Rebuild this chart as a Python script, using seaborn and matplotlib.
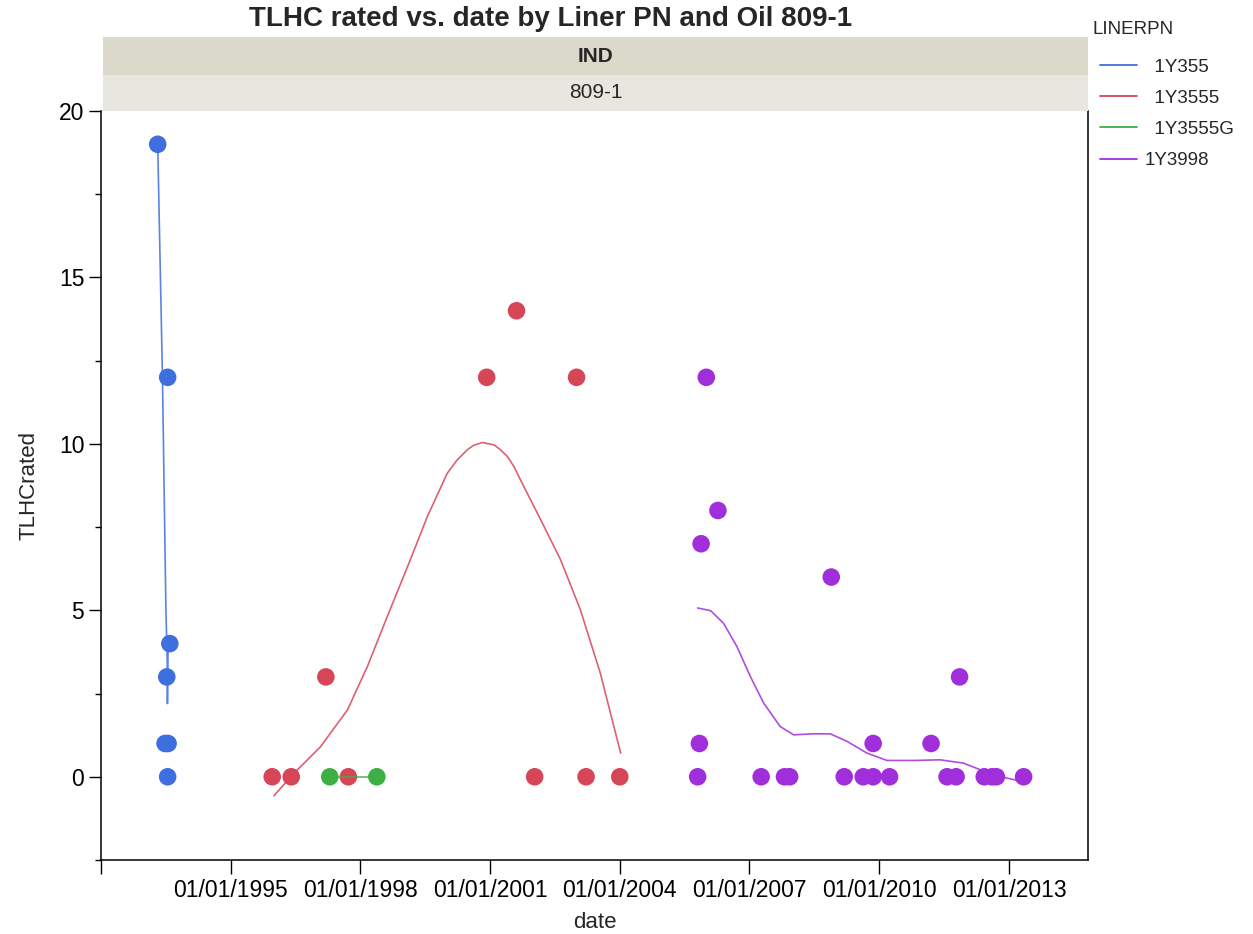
"""
TLHC rated vs. date, split by liner part number (oil 809-1).

Scatter of the rated values with one smoother line per liner PN,
drawn in a single JMP-style facet with a two-level strip header.
"""

import pandas as pd
import matplotlib.pyplot as plt
from matplotlib.lines import Line2D
from matplotlib.patches import Rectangle
import seaborn as sns

# --------------------------
# Data (dates as decimal years)
# --------------------------

liner_pn = ["1Y355", "1Y3555", "1Y3555G", "1Y3998"]
colors = ["#3d6fdf", "#d64657", "#3cb043", "#a02edb"]

years_1y355 = [1993.31, 1993.54, 1993.59, 1993.52, 1993.48, 1993.55, 1993.54]
tlhc_1y355 = [19, 12, 4, 3, 1, 1, 0]

years_1y3555 = [1995.96, 1996.40, 1997.20, 1997.72, 2000.92, 2001.61,
                2002.03, 2003.00, 2003.22, 2004.00]
tlhc_1y3555 = [0, 0, 3, 0, 12, 14, 0, 12, 0, 0]

years_1y3555g = [1997.29, 1998.38]
tlhc_1y3555g = [0, 0]

years_1y3998 = [2005.80, 2005.84, 2005.88, 2006.00, 2006.27, 2007.27,
                2007.81, 2007.93, 2008.89, 2009.19, 2009.63, 2009.86,
                2009.86, 2010.24, 2011.20, 2011.57, 2011.78, 2011.86,
                2012.43, 2012.61, 2012.71, 2013.34]
tlhc_1y3998 = [0, 1, 7, 12, 8, 0, 0, 0, 6, 0, 0, 0, 1, 0, 1, 0, 0, 3,
               0, 0, 0, 0]

# smoother curves
fit_years_1y355 = [1993.31, 1993.42, 1993.50, 1993.53, 1993.535, 1993.55]
fit_tlhc_1y355 = [19.0, 12.0, 5.0, 3.5, 2.2, 4.0]

fit_years_1y3555 = [1996.00, 1996.43, 1997.08, 1997.70, 1998.16, 1998.62,
                    1999.09, 1999.55, 2000.01, 2000.24, 2000.47, 2000.62,
                    2000.82, 2001.09, 2001.24, 2001.40, 2001.55, 2001.70,
                    2002.17, 2002.63, 2003.09, 2003.55, 2004.02]
fit_tlhc_1y3555 = [-0.57, 0.06, 0.91, 2.01, 3.31, 4.81, 6.31, 7.82, 9.12,
                   9.52, 9.82, 9.96, 10.04, 9.97, 9.82, 9.62, 9.32, 8.92,
                   7.72, 6.52, 5.01, 3.11, 0.71]

fit_years_1y3555g = [1997.29, 1998.38]
fit_tlhc_1y3555g = [0.0, 0.0]

fit_years_1y3998 = [2005.80, 2006.10, 2006.40, 2006.71, 2007.02, 2007.33,
                    2007.71, 2008.02, 2008.48, 2008.87, 2009.26, 2009.72,
                    2010.18, 2010.80, 2011.41, 2011.95, 2012.34, 2012.72,
                    2013.30]
fit_tlhc_1y3998 = [5.07, 4.99, 4.61, 3.91, 3.01, 2.21, 1.51, 1.26, 1.29,
                   1.29, 1.06, 0.71, 0.49, 0.49, 0.51, 0.41, 0.21, 0.03,
                   -0.14]

tick_years = [1992, 1995, 1998, 2001, 2004, 2007, 2010, 2013]


def to_date(year):
    """Decimal year -> Timestamp"""
    start = pd.Timestamp(int(year), 1, 1)
    end = pd.Timestamp(int(year) + 1, 1, 1)
    return start + (end - start) * (year - int(year))


def build_frame(groups):
    rows = []
    for pn, yrs, vals in groups:
        rows += [{"LINERPN": pn, "date": to_date(y), "TLHCrated": v}
                 for y, v in zip(yrs, vals)]
    return pd.DataFrame(rows)


points = build_frame([
    ("1Y355", years_1y355, tlhc_1y355),
    ("1Y3555", years_1y3555, tlhc_1y3555),
    ("1Y3555G", years_1y3555g, tlhc_1y3555g),
    ("1Y3998", years_1y3998, tlhc_1y3998),
])
fits = build_frame([
    ("1Y355", fit_years_1y355, fit_tlhc_1y355),
    ("1Y3555", fit_years_1y3555, fit_tlhc_1y3555),
    ("1Y3555G", fit_years_1y3555g, fit_tlhc_1y3555g),
    ("1Y3998", fit_years_1y3998, fit_tlhc_1y3998),
])
palette = dict(zip(liner_pn, colors))

# --------------------------
# Plot
# --------------------------

sns.set_style("white")
plt.rcParams["font.family"] = ["Liberation Sans", "DejaVu Sans"]

W, H = 1253, 934
fig = plt.figure(figsize=(W / 100, H / 100), dpi=100)
ax = fig.add_axes([101 / W, 1 - 860 / H, 987 / W, 749 / H])

sns.scatterplot(data=points, x="date", y="TLHCrated", hue="LINERPN",
                palette=palette, s=160, linewidth=0, legend=False,
                ax=ax, zorder=3)
sns.lineplot(data=fits, x="date", y="TLHCrated", hue="LINERPN",
             palette=palette, sort=False, estimator=None, linewidth=1.2,
             alpha=0.85, legend=False, ax=ax, zorder=4)

ax.set_ylim(-2.5, 20)
ax.set_xlim(pd.Timestamp(1992, 1, 1), to_date(2014.83))
ax.set_yticks([0, 5, 10, 15, 20])
ax.set_yticks([-2.5, 2.5, 7.5, 12.5, 17.5], minor=True)
ax.set_xticks([pd.Timestamp(y, 1, 1) for y in tick_years])
ax.set_xticklabels([""] + [f"01/01/{y}" for y in tick_years[1:]])

ax.tick_params(axis="both", which="both", direction="out", colors="black",
               labelsize=16.5, width=1)
ax.tick_params(axis="y", which="major", length=9, pad=3, left=True)
ax.tick_params(axis="y", which="minor", length=4.5, left=True)
ax.tick_params(axis="x", which="major", length=10, pad=4, bottom=True)

for side in ["left", "bottom", "right"]:
    ax.spines[side].set_color("black")
    ax.spines[side].set_linewidth(1.1)
ax.spines["top"].set_visible(False)

ax.set_xlabel("date", fontsize=16, labelpad=7)
ax.set_ylabel("TLHCrated", fontsize=16, labelpad=14)

# strip header (two levels)
x0, x1 = 103 / W, 1088 / W
fig.add_artist(Rectangle((x0, 1 - 75 / H), x1 - x0, 38 / H,
                         transform=fig.transFigure, color="#dbd9c9", lw=0))
fig.add_artist(Rectangle((x0, 1 - 111 / H), x1 - x0, 36 / H,
                         transform=fig.transFigure, color="#e8e7df", lw=0))
fig.text((x0 + x1) / 2, 1 - 56 / H, "IND", ha="center", va="center",
         fontsize=15, fontweight="bold")
fig.text((x0 + x1) / 2, 1 - 93 / H, "809-1", ha="center", va="center",
         fontsize=15)

fig.text(551 / W, 1 - 19 / H, "TLHC rated vs. date by Liner PN and Oil 809-1",
         ha="center", va="center", fontsize=20, fontweight="bold")

# legend
fig.text(1092 / W, 1 - 30 / H, "LINERPN", ha="left", va="center",
         fontsize=13.5)
handles = [Line2D([], [], color=c, lw=1.3) for c in colors]
labels = ["  1Y355", "  1Y3555", "  1Y3555G", "1Y3998"]
fig.legend(handles, labels, loc="upper left",
           bbox_to_anchor=(1092 / W, 1 - 51 / H), frameon=False,
           fontsize=13.5, handlelength=2.0, handletextpad=0.4,
           labelspacing=0.75, borderaxespad=0)

fig.savefig("out.png", dpi=100)
